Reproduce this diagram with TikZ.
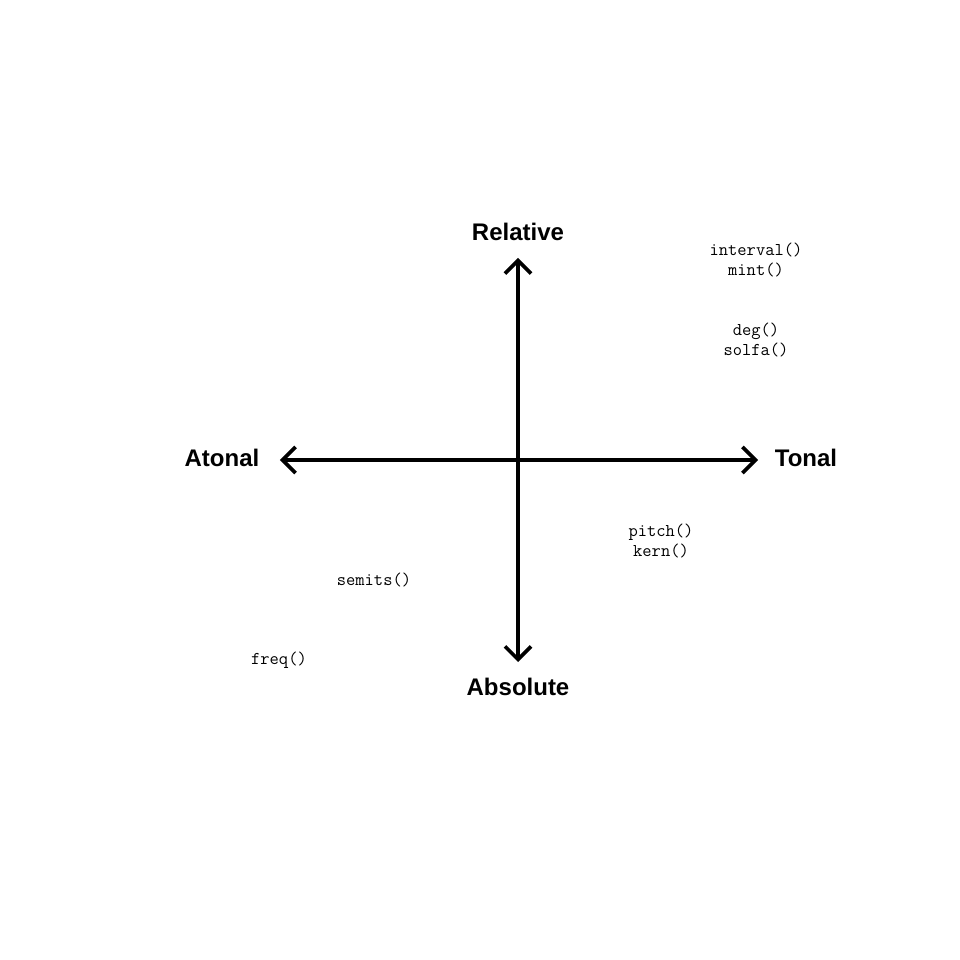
\documentclass[tikz,border=0pt]{standalone}
\usepackage{fontspec}
\setmainfont{Liberation Sans}
\usetikzlibrary{arrows.meta,positioning}

\begin{document}
\begin{tikzpicture}[x=1pt,y=1pt,line cap=round,
  axis/.style={line width=3.6pt,{Straight Barb[length=13pt,width=26pt]}-{Straight Barb[length=13pt,width=26pt]}},
  pole/.style={font=\fontsize{24}{28}\selectfont\bfseries,inner sep=0pt},
  fn/.style={font=\fontsize{18}{19.5}\selectfont\ttfamily,align=center,inner sep=0pt}]
 \useasboundingbox (-518,-500) rectangle (442,460);
 % poles
 \node[pole] (rel) at (0,228) {Relative};
 \node[pole] (abs) at (0,-227) {Absolute};
 \node[pole] (aton) at (-296,2) {Atonal};
 \node[pole] (ton) at (288,2) {Tonal};
 \coordinate (top) at (0,202);
 \coordinate (bot) at (0,-202);
 \coordinate (left) at (-238,0);
 \coordinate (right) at (240,0);
 \draw[axis] (left) -- (right);
 \draw[axis] (bot) -- (top);
 % functions
 \node[fn] (intv) at (238,200) {interval()\\mint()};
 \node[fn] (deg) at (238,120) {deg()\\solfa()};
 \node[fn] (pitch) at (143,-81) {pitch()\\kern()};
 \node[fn] (semi) at (-144,-120) {semits()};
 \node[fn] (freq) at (-239,-200) {freq()};
\end{tikzpicture}
\end{document}
